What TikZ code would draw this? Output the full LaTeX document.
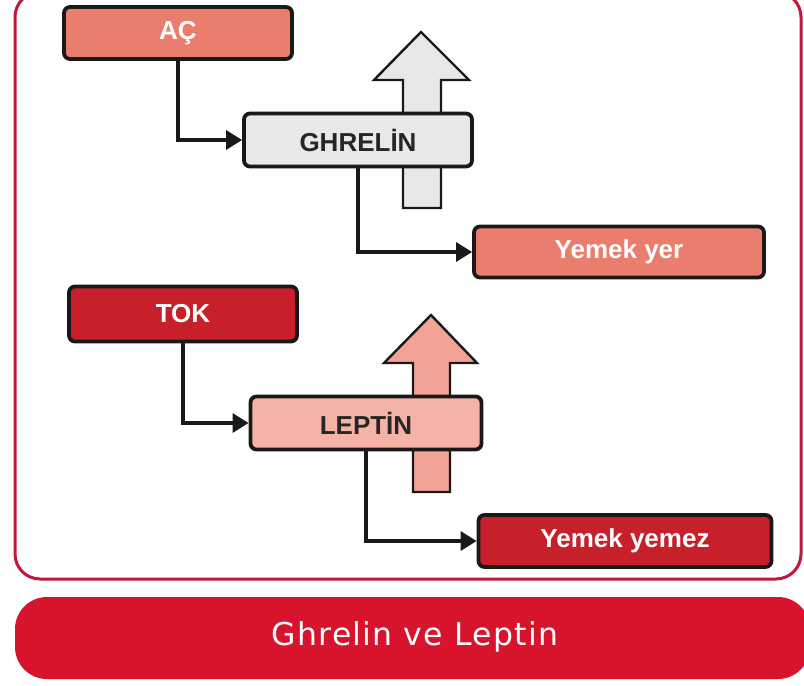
\documentclass[tikz,border=0pt]{standalone}
\usepackage{fontspec}
\setmainfont{Liberation Sans}
\newfontfamily\titlefont[LetterSpace=4]{DejaVu Sans}
\usetikzlibrary{arrows.meta}
\definecolor{salmon}{HTML}{EB7D6E}
\definecolor{darkred}{HTML}{C8202A}
\definecolor{lightgray}{HTML}{E8E8E8}
\definecolor{pinkfill}{HTML}{F5B3A8}
\definecolor{pinkarrow}{HTML}{F2A395}
\definecolor{framered}{HTML}{C0183A}
\definecolor{barred}{HTML}{D8142C}
\tikzset{
  box/.style={draw=black!90, line width=3.8pt, rounded corners=6pt, inner sep=0pt,
    font=\fontsize{26}{30}\selectfont\bfseries},
  conn/.style={draw=black!90, line width=3.2pt, -{Triangle[length=16pt,width=19pt]}},
  bigarrow/.style={draw=black!90, line width=2.4pt, line join=miter},
}
\begin{document}
\begin{tikzpicture}[x=1pt,y=-1pt]
\useasboundingbox (0,0) rectangle (804,686);
% frame
\draw[framered, line width=3pt, rounded corners=25pt] (15,-8) rectangle (801,579);
% title bar
\fill[barred, rounded corners=32pt] (15,597) rectangle (810,679);
\node[text=white, font=\titlefont\fontsize{31.5}{36}\selectfont] (title) at (415,637) {Ghrelin ve Leptin};
% big arrows (behind boxes)
\draw[bigarrow, fill=lightgray] (403,208) -- (403,80) -- (374,80) -- (421,32) -- (469,80) -- (441,80) -- (441,208) -- cycle;
\draw[bigarrow, fill=pinkarrow] (413,492) -- (413,363) -- (384,363) -- (431,315) -- (477,363) -- (450,363) -- (450,492) -- cycle;
% boxes
\node[box, fill=salmon, text=white, minimum width=228pt, minimum height=52pt] (ac) at (178,33) {AÇ};
\node[box, fill=lightgray, text=black!85, minimum width=228pt, minimum height=53pt] (gh) at (358,140) {GHRELİN};
\node[box, fill=salmon, text=white, minimum width=290pt, minimum height=51pt] (yy) at (619,252) {Yemek yer};
\node[box, fill=darkred, text=white, minimum width=228pt, minimum height=55pt] (tok) at (183,314) {TOK};
\node[box, fill=pinkfill, text=black!85, minimum width=231pt, minimum height=53pt] (lep) at (366,423) {LEPTİN};
\node[box, fill=darkred, text=white, minimum width=293pt, minimum height=52pt] (ym) at (625,541) {Yemek yemez};
% connectors
\draw[conn] (ac.south) |- (gh.west);
\draw[conn] (gh.south) |- (yy.west);
\draw[conn] (tok.south) |- (lep.west);
\draw[conn] (lep.south) |- (ym.west);
\end{tikzpicture}
\end{document}
